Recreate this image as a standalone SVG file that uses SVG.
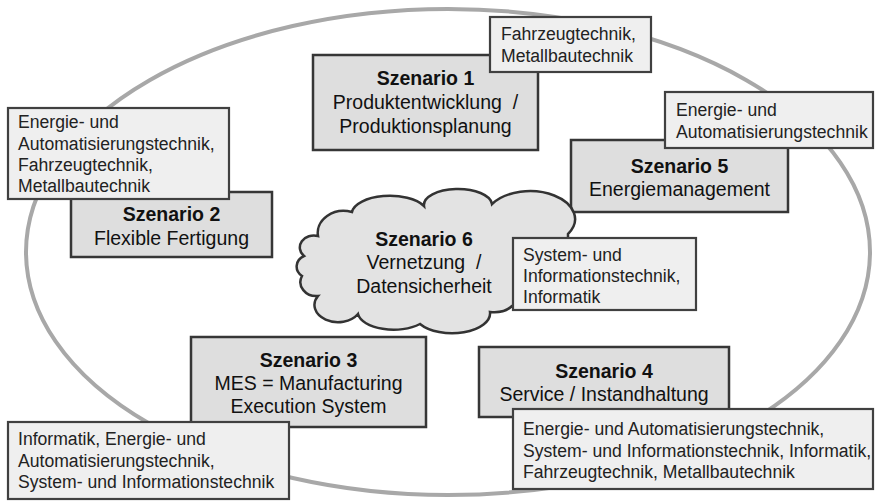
<svg xmlns="http://www.w3.org/2000/svg" width="876" height="501" viewBox="0 0 876 501">
<style>
.t{font-family:"Liberation Sans",Arial,sans-serif;font-size:19.5px;fill:#111;text-anchor:middle}
.b{font-weight:bold}
.n{font-family:"Liberation Sans",Arial,sans-serif;font-size:17.6px;fill:#222}
.box{fill:#dedede;stroke:#363636;stroke-width:2.5}
.note{fill:#efefef;stroke:#404040;stroke-width:2.2}
</style>
<rect width="876" height="501" fill="#fff"/>
<g id="connectors">
<ellipse cx="448" cy="252" rx="422" ry="243" fill="none" stroke="#a8a8a8" stroke-width="4"/>
</g>
<g id="s1">
<rect class="box" x="313" y="55" width="225" height="95"/>
<text class="t b" x="425.5" y="85">Szenario 1</text>
<text class="t" x="425.5" y="109" xml:space="preserve">Produktentwicklung  /</text>
<text class="t" x="425.5" y="133">Produktionsplanung</text>
</g>
<g id="n1">
<rect class="note" x="490" y="17" width="161" height="55"/>
<text class="n" x="501" y="40">Fahrzeugtechnik,</text>
<text class="n" x="501" y="62">Metallbautechnik</text>
</g>
<g id="s5">
<rect class="box" x="571" y="140" width="217" height="72"/>
<text class="t b" x="679.5" y="173">Szenario 5</text>
<text class="t" x="679.5" y="196">Energiemanagement</text>
</g>
<g id="n5">
<rect class="note" x="665" y="92" width="208" height="56"/>
<text class="n" x="676" y="116">Energie- und</text>
<text class="n" x="676" y="138">Automatisierungstechnik</text>
</g>
<g id="s2">
<rect class="box" x="71" y="192" width="201" height="65"/>
<text class="t b" x="171.5" y="221">Szenario 2</text>
<text class="t" x="171.5" y="245">Flexible Fertigung</text>
</g>
<g id="n2">
<rect class="note" x="8" y="108" width="221" height="91"/>
<text class="n" x="18" y="128">Energie- und</text>
<text class="n" x="18" y="150">Automatisierungstechnik,</text>
<text class="n" x="18" y="171">Fahrzeugtechnik,</text>
<text class="n" x="18" y="192">Metallbautechnik</text>
</g>
<g id="s6">
<path d="M318,236 A26,22 0 0 1 352,212 A38,18 0 0 1 424,206 A34,16 0 0 1 492,204 A42,26 0 0 1 568,234 L568,302 L512,306 A22,14 0 0 1 490,312 A38,20 0 0 1 420,324 A36,18 0 0 1 358,314 A22,16 0 0 1 318,296 A16,14 0 0 1 302,276 A14,12 0 0 1 304,256 A14,12 0 0 1 318,236 Z" fill="#e3e3e3" stroke="#333" stroke-width="2.5"/>
<text class="t b" x="424" y="246">Szenario 6</text>
<text class="t" x="424" y="269" xml:space="preserve">Vernetzung  /</text>
<text class="t" x="424" y="293">Datensicherheit</text>
</g>
<g id="n6">
<rect class="note" x="513" y="238" width="183" height="72"/>
<text class="n" x="523" y="261">System- und</text>
<text class="n" x="523" y="282">Informationstechnik,</text>
<text class="n" x="523" y="303">Informatik</text>
</g>
<g id="s3">
<rect class="box" x="191" y="337" width="235" height="90"/>
<text class="t b" x="308.5" y="367">Szenario 3</text>
<text class="t" x="308.5" y="390">MES = Manufacturing</text>
<text class="t" x="308.5" y="413">Execution System</text>
</g>
<g id="n3">
<rect class="note" x="8" y="422" width="281" height="77"/>
<text class="n" x="18" y="445">Informatik, Energie- und</text>
<text class="n" x="18" y="467">Automatisierungstechnik,</text>
<text class="n" x="18" y="488">System- und Informationstechnik</text>
</g>
<g id="s4">
<rect class="box" x="479" y="347" width="250" height="70"/>
<text class="t b" x="604" y="378">Szenario 4</text>
<text class="t" x="604" y="401">Service / Instandhaltung</text>
</g>
<g id="n4">
<rect class="note" x="513" y="409" width="360" height="80"/>
<text class="n" x="523" y="435">Energie- und Automatisierungstechnik,</text>
<text class="n" x="523" y="457">System- und Informationstechnik, Informatik,</text>
<text class="n" x="523" y="478">Fahrzeugtechnik, Metallbautechnik</text>
</g>
</svg>
